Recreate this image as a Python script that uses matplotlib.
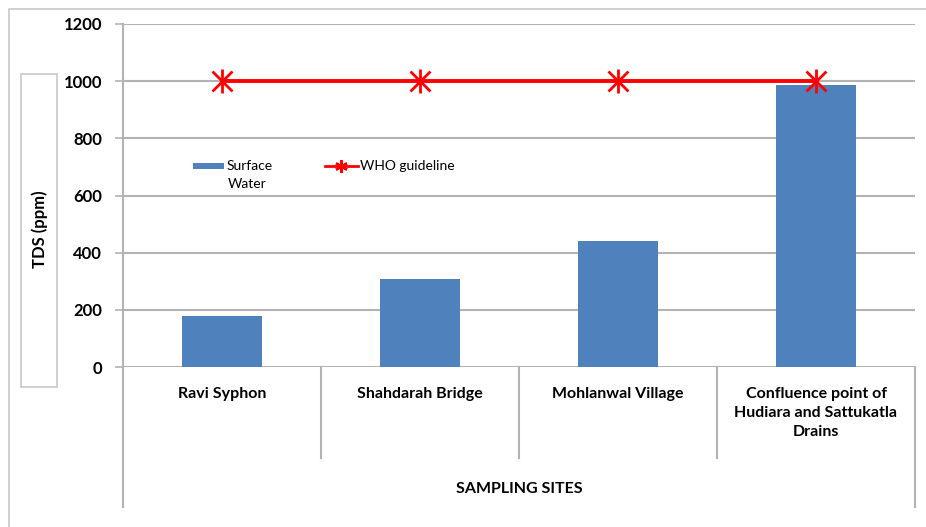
import numpy as np
import matplotlib
matplotlib.use('Agg')
import matplotlib.pyplot as plt
import matplotlib.transforms as mtransforms
from matplotlib.lines import Line2D
from matplotlib.patches import Rectangle

# Dados
sites = ['Ravi Syphon', 'Shahdarah Bridge', 'Mohlanwal Village',
         'Confluence point of\nHudiara and Sattukatla\nDrains']
surface_water = [178, 307, 440, 985]
who_guideline = [1000, 1000, 1000, 1000]
y_ticks = [0, 200, 400, 600, 800, 1000, 1200]

bar_color = '#4F81BD'
line_color = '#FF0000'
grid_color = '#B3B3B3'

plt.rcParams['font.family'] = ['Lato', 'DejaVu Sans']

W, H = 926, 527
fig = plt.figure(figsize=(W / 100, H / 100), dpi=100)
ax = fig.add_axes([123 / W, 1 - 367 / H, (915 - 123) / W, (367 - 24) / H])

x = np.arange(len(sites))
ax.bar(x, surface_water, width=0.4, color=bar_color, zorder=3)

# Linha do guia da OMS com marcador estrela (X + barra vertical)
ax.plot(x, who_guideline, color=line_color, linewidth=2.8, zorder=4)
ax.plot(x, who_guideline, linestyle='none', marker='x', markersize=14,
        markeredgewidth=2, color=line_color, zorder=5)
ax.plot(x, who_guideline, linestyle='none', marker='|', markersize=17,
        markeredgewidth=2, color=line_color, zorder=5)

ax.set_xlim(-0.5, len(sites) - 0.5)
ax.set_ylim(0, 1200)
ax.set_yticks(y_ticks)
ax.set_yticklabels([str(v) for v in y_ticks], fontsize=12, fontweight='bold')
ax.tick_params(axis='y', length=6, width=1.2, color=grid_color, pad=9)
ax.set_xticks([])
ax.grid(axis='y', color=grid_color, linewidth=1.5, zorder=0)
ax.set_axisbelow(True)

for side in ['top', 'right', 'bottom']:
    ax.spines[side].set_visible(False)
ax.spines['left'].set_color(grid_color)
ax.spines['left'].set_linewidth(1.5)
ax.spines['left'].set_bounds(0, 1200)

# Eixo das categorias desenhado à mão (estilo Excel com separadores)
trans = mtransforms.blended_transform_factory(ax.transData, ax.transAxes)
ax.plot([-0.5, -0.5], [0, -0.408], transform=trans, color=grid_color,
        linewidth=1.5, clip_on=False)
ax.plot([3.5, 3.5], [0, -0.408], transform=trans, color=grid_color,
        linewidth=1.5, clip_on=False)
for sep in [0.5, 1.5, 2.5]:
    ax.plot([sep, sep], [0, -0.265], transform=trans, color=grid_color,
            linewidth=1.5, clip_on=False)

for xi, name in zip(x, sites):
    ax.text(xi, -0.058, name, transform=trans, ha='center', va='top',
            fontsize=11.5, fontweight='bold', linespacing=1.45)

ax.text(1.5, -0.355, 'SAMPLING SITES', transform=trans, ha='center',
        va='center', fontsize=11.5, fontweight='bold')

# Caixa do rótulo do eixo Y
fig.patches.append(Rectangle((21 / W, 1 - 387 / H), 36 / W, 313 / H,
                             transform=fig.transFigure, fill=False,
                             edgecolor='#C8C8C8', linewidth=1.2))
fig.text(40 / W, 1 - 229 / H, 'TDS (ppm)', rotation=90, ha='center',
         va='center', fontsize=12, fontweight='bold')

# Borda externa (só esquerda e topo visíveis)
fig.lines.append(Line2D([9 / W, 9 / W, 1.0], [0.0, 1 - 9 / H, 1 - 9 / H],
                        transform=fig.transFigure, color='#C8C8C8', linewidth=1.2))

# Legenda feita à mão (posição em pixels da figura)
fig.patches.append(Rectangle((193 / W, 1 - 169 / H), 31 / W, 6 / H,
                             transform=fig.transFigure, facecolor=bar_color,
                             edgecolor='none'))
fig.text(227 / W, 1 - 166 / H, 'Surface', ha='left', va='center', fontsize=10)
fig.text(228 / W, 1 - 184 / H, 'Water', ha='left', va='center', fontsize=10)
fig.lines.append(Line2D([325 / W, 358 / W], [1 - 166 / H, 1 - 166 / H],
                        transform=fig.transFigure, color=line_color, linewidth=2))
fig.lines.append(Line2D([341 / W], [1 - 166 / H], transform=fig.transFigure,
                        linestyle='none', marker=(6, 2, 0), markersize=9,
                        markeredgewidth=1.8, color=line_color))
fig.text(360 / W, 1 - 166 / H, 'WHO guideline', ha='left', va='center', fontsize=10)

fig.savefig('out.png', dpi=100, facecolor='white')
